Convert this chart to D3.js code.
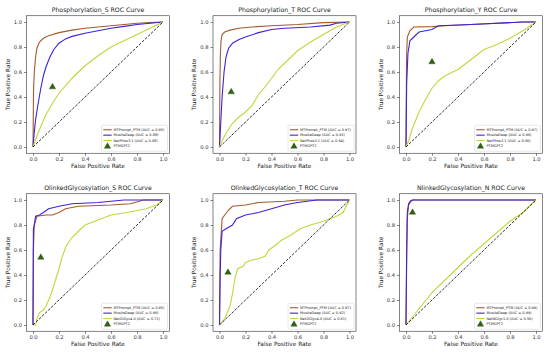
<!DOCTYPE html>
<html>
<head>
<meta charset="utf-8">
<script src="https://cdn.jsdelivr.net/npm/d3@7"></script>
<style>
  body { margin: 0; background: #fff; }
  svg { display: block; font-family: "DejaVu Sans", sans-serif; }
</style>
</head>
<body>
<svg id="chart" width="550" height="355"></svg>
<script>
// panel titles and legend names
const titles = [
    "Phosphorylation_S ROC Curve", "Phosphorylation_T ROC Curve", "Phosphorylation_Y ROC Curve",
    "OlinkedGlycosylation_S ROC Curve", "OlinkedGlycosylation_T ROC Curve", "NlinkedGlycosylation_N ROC Curve"
];
const baselineNames = ["NetPhos3.1", "NetPhos3.1", "NetPhos3.1", "NetOGlyc4.0", "NetOGlyc4.0", "NetNGlyc1.0"];
const aucMTPrompt = ["0.95", "0.97", "0.97", "0.95", "0.97", "0.99"];
const aucMusite = ["0.88", "0.91", "0.96", "0.96", "0.92", "0.99"];
const aucBaseline = ["0.68", "0.64", "0.66", "0.71", "0.61", "0.56"];
const tickValues = [0, 0.2, 0.4, 0.6, 0.8, 1.0];

// PTMGPT2 single operating point [fpr, tpr]
const ptmgpt2Points = [[0.15, 0.48], [0.09, 0.44], [0.2, 0.68], [0.06, 0.54], [0.065, 0.42], [0.05, 0.9]];

// ROC curves, [fpr, tpr] pairs
const mtpromptCurves = [
    [[0, 0], [0.004, 0.45], [0.01, 0.6], [0.02, 0.72], [0.03, 0.79], [0.05, 0.84], [0.08, 0.87], [0.12, 0.89],
     [0.2, 0.915], [0.3, 0.935], [0.4, 0.95], [0.5, 0.96], [0.6, 0.97], [0.7, 0.98], [0.8, 0.99], [0.9, 0.995], [1, 1]],
    [[0, 0], [0.003, 0.5], [0.007, 0.75], [0.012, 0.85], [0.02, 0.9], [0.04, 0.92], [0.08, 0.935], [0.15, 0.95],
     [0.25, 0.96], [0.4, 0.97], [0.6, 0.98], [0.8, 0.995], [1, 1]],
    [[0, 0], [0.004, 0.7], [0.01, 0.88], [0.03, 0.93], [0.06, 0.96], [0.2, 0.963], [0.3, 0.97], [0.5, 0.98],
     [0.7, 0.99], [0.9, 1], [1, 1]],
    [[0, 0], [0.003, 0.6], [0.01, 0.8], [0.03, 0.87], [0.1, 0.88], [0.15, 0.88], [0.2, 0.9], [0.25, 0.93],
     [0.35, 0.95], [0.6, 0.96], [0.75, 0.97], [0.85, 1], [1, 1]],
    [[0, 0], [0.005, 0.6], [0.02, 0.85], [0.04, 0.88], [0.07, 0.92], [0.1, 0.95], [0.2, 0.96], [0.3, 0.98],
     [0.5, 0.99], [0.6, 1], [1, 1]],
    [[0, 0], [0.005, 0.5], [0.01, 0.85], [0.02, 0.96], [0.04, 0.99], [0.05, 1], [1, 1]]
];
const musiteCurves = [
    [[0, 0], [0.01, 0.12], [0.02, 0.22], [0.04, 0.35], [0.06, 0.47], [0.08, 0.57], [0.1, 0.64], [0.13, 0.72],
     [0.16, 0.78], [0.2, 0.83], [0.25, 0.865], [0.3, 0.885], [0.4, 0.91], [0.5, 0.93], [0.6, 0.95], [0.7, 0.965],
     [0.8, 0.98], [0.9, 0.99], [1, 1]],
    [[0, 0], [0.01, 0.2], [0.02, 0.4], [0.035, 0.6], [0.05, 0.72], [0.07, 0.79], [0.1, 0.83], [0.15, 0.86],
     [0.2, 0.88], [0.3, 0.915], [0.4, 0.94], [0.5, 0.95], [0.7, 0.96], [0.85, 0.975], [0.9, 0.99], [1, 1]],
    [[0, 0], [0.005, 0.5], [0.015, 0.75], [0.03, 0.85], [0.06, 0.88], [0.1, 0.92], [0.2, 0.94], [0.25, 0.97],
     [0.5, 0.98], [0.9, 1], [1, 1]],
    [[0, 0], [0.003, 0.77], [0.01, 0.8], [0.02, 0.87], [0.05, 0.88], [0.08, 0.9], [0.12, 0.93], [0.2, 0.95],
     [0.3, 0.97], [0.5, 0.98], [0.7, 1], [1, 1]],
    [[0, 0], [0.005, 0.4], [0.01, 0.6], [0.02, 0.75], [0.05, 0.77], [0.1, 0.8], [0.13, 0.85], [0.2, 0.88],
     [0.3, 0.9], [0.4, 0.93], [0.5, 0.96], [0.6, 0.98], [0.75, 1], [1, 1]],
    [[0, 0], [0.005, 0.6], [0.01, 0.9], [0.02, 0.97], [0.035, 0.995], [0.05, 1], [1, 1]]
];
const baselineCurves = [
    [[0, 0], [0.02, 0.06], [0.05, 0.14], [0.1, 0.26], [0.15, 0.35], [0.2, 0.43], [0.3, 0.55], [0.4, 0.65],
     [0.5, 0.73], [0.6, 0.8], [0.7, 0.85], [0.8, 0.9], [0.9, 0.95], [1, 1]],
    [[0, 0], [0.02, 0.05], [0.05, 0.11], [0.1, 0.19], [0.15, 0.24], [0.2, 0.28], [0.25, 0.33], [0.3, 0.42],
     [0.35, 0.48], [0.4, 0.55], [0.45, 0.62], [0.5, 0.67], [0.6, 0.77], [0.7, 0.84], [0.8, 0.9], [0.9, 0.96], [1, 1]],
    [[0, 0], [0.02, 0.05], [0.05, 0.15], [0.1, 0.28], [0.15, 0.38], [0.2, 0.47], [0.25, 0.53], [0.3, 0.57],
     [0.4, 0.62], [0.5, 0.7], [0.6, 0.78], [0.7, 0.82], [0.8, 0.87], [0.9, 0.93], [1, 1]],
    [[0, 0], [0.02, 0], [0.03, 0.05], [0.05, 0.1], [0.08, 0.12], [0.1, 0.15], [0.12, 0.2], [0.14, 0.25],
     [0.17, 0.35], [0.2, 0.45], [0.22, 0.53], [0.25, 0.62], [0.28, 0.67], [0.3, 0.7], [0.35, 0.75], [0.4, 0.8],
     [0.5, 0.84], [0.6, 0.88], [0.72, 0.9], [0.87, 0.93], [0.95, 0.96], [1, 1]],
    [[0, 0], [0.04, 0.05], [0.06, 0.1], [0.08, 0.15], [0.1, 0.25], [0.12, 0.38], [0.14, 0.45], [0.18, 0.47],
     [0.2, 0.5], [0.25, 0.52], [0.3, 0.53], [0.35, 0.55], [0.38, 0.6], [0.42, 0.63], [0.48, 0.68], [0.55, 0.72],
     [0.62, 0.77], [0.7, 0.8], [0.8, 0.83], [0.9, 0.87], [0.95, 0.9], [1, 1]],
    [[0, 0], [0.1, 0.13], [0.2, 0.26], [0.3, 0.36], [0.4, 0.46], [0.5, 0.56], [0.6, 0.65], [0.7, 0.74],
     [0.8, 0.83], [0.9, 0.9], [0.95, 0.95], [1, 1]]
];

const colors = { mtprompt: "#a65a2e", musite: "#3f22d8", baseline: "#c2d63c", ptmgpt2: "#2e6410", diag: "#000" };

// panel frame positions (left, top of the axes box)
const colLeft = [26.5, 213, 399.5];
const rowTop = [15.75, 193.75];
const frameW = 143;
const frameH = 137.5;

const svg = d3.select("#chart");

/**
 * Draw one ROC subplot
 */
function drawPanel(i) {
    const left = colLeft[i % 3];
    const top = rowTop[Math.floor(i / 3)];
    const x = d3.scaleLinear().domain([-0.05, 1.05]).range([left, left + frameW]);
    const y = d3.scaleLinear().domain([-0.05, 1.05]).range([top + frameH, top]);
    const g = svg.append("g");

    // axes
    const xAxis = d3.axisBottom(x).tickValues(tickValues).tickFormat(d3.format(".1f")).tickSize(2.5).tickPadding(2);
    const yAxis = d3.axisLeft(y).tickValues(tickValues).tickFormat(d3.format(".1f")).tickSize(2.5).tickPadding(2);
    const gx = g.append("g").attr("transform", `translate(0,${top + frameH})`).call(xAxis);
    const gy = g.append("g").attr("transform", `translate(${left},0)`).call(yAxis);
    [gx, gy].forEach((a) => {
        a.select(".domain").remove();
        a.selectAll("line").attr("stroke", "#333").attr("stroke-width", 0.6);
        a.selectAll("text").attr("font-size", 5.2).attr("fill", "#333").attr("font-family", "DejaVu Sans");
    });

    const line = d3.line().x((d) => x(d[0])).y((d) => y(d[1]));

    g.append("path").datum(mtpromptCurves[i]).attr("d", line)
        .attr("fill", "none").attr("stroke", colors.mtprompt).attr("stroke-width", 1.1);
    g.append("path").datum(musiteCurves[i]).attr("d", line)
        .attr("fill", "none").attr("stroke", colors.musite).attr("stroke-width", 1.1);
    g.append("path").datum(baselineCurves[i]).attr("d", line)
        .attr("fill", "none").attr("stroke", colors.baseline).attr("stroke-width", 1.1);
    // chance diagonal
    g.append("path").datum([[0, 0], [1, 1]]).attr("d", line)
        .attr("fill", "none").attr("stroke", colors.diag).attr("stroke-width", 0.8).attr("stroke-dasharray", "2.8,1.4");

    const tri = d3.symbol().type(d3.symbolTriangle).size(18);
    g.append("path").attr("d", tri)
        .attr("transform", `translate(${x(ptmgpt2Points[i][0])},${y(ptmgpt2Points[i][1])})`)
        .attr("fill", colors.ptmgpt2).attr("stroke", "#1d3d08").attr("stroke-width", 0.3);

    // frame
    g.append("rect").attr("x", left).attr("y", top).attr("width", frameW).attr("height", frameH)
        .attr("fill", "none").attr("stroke", "#333").attr("stroke-width", 0.6);

    // title and axis labels
    g.append("text").attr("x", left + frameW / 2).attr("y", top - 4).attr("text-anchor", "middle")
        .attr("font-size", 6.2).attr("fill", "#222").text(titles[i]);
    g.append("text").attr("x", left + frameW / 2).attr("y", top + frameH + 15).attr("text-anchor", "middle")
        .attr("font-size", 5.8).attr("fill", "#222").text("False Positive Rate");
    g.append("text").attr("transform", `translate(${left - 17},${top + frameH / 2}) rotate(-90)`)
        .attr("text-anchor", "middle").attr("font-size", 5.8).attr("fill", "#222").text("True Positive Rate");

    // legend
    const lw = 66, lh = 26;
    const lx = left + frameW - lw - 2, ly = top + frameH - lh - 2;
    const lg = g.append("g").attr("transform", `translate(${lx},${ly})`);
    lg.append("rect").attr("width", lw).attr("height", lh).attr("rx", 1.2)
        .attr("fill", "#fff").attr("fill-opacity", 0.8).attr("stroke", "#d0d0d0").attr("stroke-width", 0.5);
    const items = [
        { label: `MTPrompt_PTM (AUC = ${aucMTPrompt[i]})`, color: colors.mtprompt },
        { label: `MusiteDeep (AUC = ${aucMusite[i]})`, color: colors.musite },
        { label: `${baselineNames[i]} (AUC = ${aucBaseline[i]})`, color: colors.baseline },
        { label: "PTMGPT2", marker: true }
    ];
    items.forEach((it, k) => {
        const cy = 4.5 + k * 5.4;
        if (it.marker) {
            lg.append("path").attr("d", tri).attr("transform", `translate(6,${cy + 0.5})`)
                .attr("fill", colors.ptmgpt2).attr("stroke", "#1d3d08").attr("stroke-width", 0.3);
        } else {
            lg.append("line").attr("x1", 1.8).attr("x2", 10.2).attr("y1", cy).attr("y2", cy)
                .attr("stroke", it.color).attr("stroke-width", 1.1);
        }
        lg.append("text").attr("x", 12).attr("y", cy).attr("dy", "0.35em")
            .attr("font-size", 3.5).attr("fill", "#222").text(it.label);
    });
}

titles.forEach((t, i) => drawPanel(i));
</script>
</body>
</html>
